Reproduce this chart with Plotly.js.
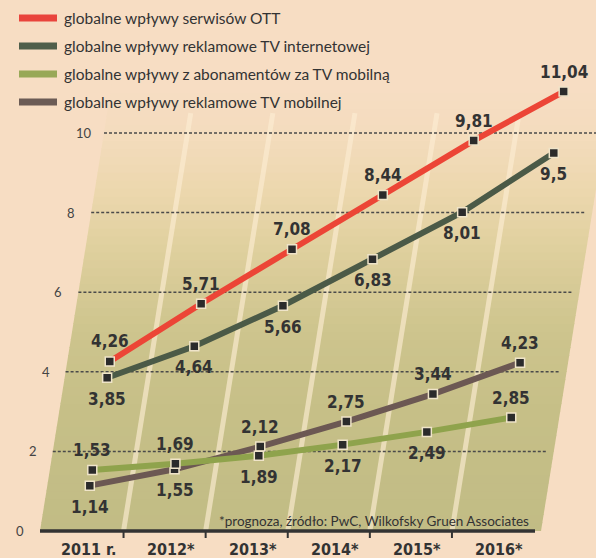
<!DOCTYPE html>
<html><head><meta charset="utf-8">
<script src="https://cdn.plot.ly/plotly-3.0.1.min.js"></script>
<style>html,body{margin:0;padding:0;background:#f7ddc3;overflow:hidden}</style>
</head><body><div id="chart" style="width:596px;height:558px"></div>
<script>
// ---- data ----
const years = ['2011 r.', '2012*', '2013*', '2014*', '2015*', '2016*'];
const seriesNames = [
  'globalne wpływy serwisów OTT',
  'globalne wpływy reklamowe TV internetowej',
  'globalne wpływy z abonamentów za TV mobilną',
  'globalne wpływy reklamowe TV mobilnej'
];
const ottRevenue    = [4.26, 5.71, 7.08, 8.44, 9.81, 11.04];
const internetTvAds = [3.85, 4.64, 5.66, 6.83, 8.01, 9.5];
const mobileTvSubs  = [1.53, 1.69, 1.89, 2.17, 2.49, 2.85];
const mobileTvAds   = [1.14, 1.55, 2.12, 2.75, 3.44, 4.23];
const yTicks = [0, 2, 4, 6, 8, 10];
const footnote = '*prognoza, źródło: PwC, Wilkofsky Gruen Associates';

// ---- label placement (above / below marker) ----
const placeOtt      = ['up', 'up', 'up', 'up', 'up', 'up'];
const placeInternet = ['dn', 'dn', 'dn', 'dn', 'dn', 'dn'];
const placeSubs     = ['up', 'up', 'dn', 'dn', 'dn', 'up'];
const placeAds      = ['dn', 'dn', 'up', 'up', 'up', 'up'];

// ---- geometry / style ----
const W = 596, H = 558;
const X0PX = 82.5, XSTEP = 82.1, Y0PX = 531, YSTEP = 39.8, SHEAR_PX = 6.4;
const SKEW = SHEAR_PX / XSTEP;
const dx = px => (px - X0PX) / XSTEP;
const px2fx = px => px / W, py2fy = py => 1 - py / H;
const PAGE = '#f7ddc3';
const colors = ['#ec4536', '#4b5a47', '#8fa34c', '#6c5853'];
const legendColors = ['#e9443c', '#4f5e4a', '#98a857', '#6b5b55'];
const labelFont = {family: 'DejaVu Sans Condensed, Liberation Sans Narrow, sans-serif', size: 17, color: '#333', weight: 'bold'};

const series = [
  {vals: mobileTvAds, name: seriesNames[3], color: colors[3], place: placeAds},
  {vals: mobileTvSubs, name: seriesNames[2], color: colors[2], place: placeSubs},
  {vals: internetTvAds, name: seriesNames[1], color: colors[1], place: placeInternet},
  {vals: ottRevenue, name: seriesNames[0], color: colors[0], place: placeOtt}
];

const traces = series.map(s => ({
  type: 'scatter', mode: 'lines+markers', name: s.name, showlegend: false,
  x: s.vals.map((v, i) => i + SKEW * v), y: s.vals,
  line: {color: s.color, width: 6},
  marker: {symbol: 'square', size: 9, color: '#2b2b2b', line: {color: '#efe4c9', width: 1.5}},
  hoverinfo: 'skip'
}));

const shapes = [];
const annotations = [];

// background sheared panel with vertical gradient (bands)
const stops = [[0, [193,188,133]], [3, [198,191,135]], [5, [205,196,141]], [7, [222,207,157]], [8.5, [236,215,173]], [10, [244,220,189]], [11.2, [247,221,195]]];
function colAt(v) {
  for (let k = 0; k < stops.length - 1; k++) {
    const [a, ca] = stops[k], [b, cb] = stops[k + 1];
    if (v <= b) { const t = (v - a) / (b - a); return 'rgb(' + ca.map((c, j) => Math.round(c + (cb[j] - c) * t)).join(',') + ')'; }
  }
  return 'rgb(247,221,195)';
}
const xl = dx(40), xr = dx(541);
const NB = 56, VTOP = 11.2;
for (let k = 0; k < NB; k++) {
  const v0 = VTOP * k / NB, v1 = VTOP * (k + 1) / NB + 0.02;
  const p = `M${xl + SKEW * v0},${v0} L${xr + SKEW * v0},${v0} L${xr + SKEW * v1},${v1} L${xl + SKEW * v1},${v1} Z`;
  shapes.push({type: 'path', path: p, xref: 'x', yref: 'y', fillcolor: colAt((v0 + v1) / 2), line: {width: 0}, layer: 'below'});
}
// light slanted stripes between categories
for (let i = 0; i < years.length - 1; i++) {
  shapes.push({type: 'line', xref: 'x', yref: 'y', x0: i + 0.5, y0: 0, x1: i + 0.5 + SKEW * 10.5, y1: 10.5,
    line: {color: 'rgba(252,236,210,0.65)', width: 5}, layer: 'below'});
}
// dotted gridlines
yTicks.filter(v => v > 0).forEach(v => {
  shapes.push({type: 'line', xref: 'x', yref: 'y', x0: dx(40) + SKEW * v, y0: v, x1: dx(535) + SKEW * v, y1: v,
    line: {color: '#4a4a4a', width: 1.5, dash: '3px,2px'}, layer: 'below'});
});
// y tick labels (sheared)
yTicks.forEach(v => {
  annotations.push({x: dx(20) + SKEW * v, y: v, xref: 'x', yref: 'y', text: String(v), showarrow: false,
    xanchor: 'center', yanchor: 'middle', font: {family: 'Lato, Open Sans, sans-serif', size: 13, color: '#444'}});
});
// x axis line + ticks
shapes.push({type: 'line', xref: 'x', yref: 'y', x0: dx(40), y0: 0, x1: dx(535), y1: 0, line: {color: '#333', width: 3.5}});
for (let i = 0; i < years.length - 1; i++) {
  shapes.push({type: 'line', xref: 'x', yref: 'y', x0: i + 0.5, y0: 0, x1: i + 0.5, y1: -7 / YSTEP, line: {color: '#333', width: 2}});
}
years.forEach((t, i) => {
  annotations.push({x: i, y: 0, xref: 'x', yref: 'y', text: t, showarrow: false, xshift: 6, yshift: -18,
    xanchor: 'center', yanchor: 'middle', font: {family: 'DejaVu Sans Condensed, sans-serif', size: 16, color: '#333', weight: 'bold'}});
});
// value labels
series.forEach(s => {
  s.vals.forEach((v, i) => {
    annotations.push({x: i + SKEW * v, y: v, xref: 'x', yref: 'y', text: String(v).replace('.', ','), showarrow: false,
      xanchor: 'center', yanchor: 'middle', yshift: s.place[i] === 'up' ? 20 : -21, font: labelFont});
  });
});
// legend (manual)
seriesNames.forEach((n, k) => {
  const yc = 18 + k * 28;
  shapes.push({type: 'line', xref: 'paper', yref: 'paper', x0: px2fx(19), x1: px2fx(57), y0: py2fy(yc), y1: py2fy(yc),
    line: {color: legendColors[k], width: 7}});
  annotations.push({xref: 'paper', yref: 'paper', x: px2fx(62), y: py2fy(yc), text: n, showarrow: false,
    xanchor: 'left', yanchor: 'middle', font: {family: 'Lato, Open Sans, sans-serif', size: 15.5, color: '#333'}});
});
// footnote
annotations.push({xref: 'paper', yref: 'paper', x: px2fx(531), y: py2fy(521), text: footnote, showarrow: false,
  xanchor: 'right', yanchor: 'middle', font: {family: 'Lato, Open Sans, sans-serif', size: 13.5, color: '#333'}});

const layout = {
  width: W, height: H, margin: {l: 0, r: 0, t: 0, b: 0, autoexpand: false},
  paper_bgcolor: PAGE, plot_bgcolor: 'rgba(0,0,0,0)', showlegend: false,
  xaxis: {range: [dx(0), dx(W)], visible: false, fixedrange: true},
  yaxis: {range: [(Y0PX - H) / YSTEP, Y0PX / YSTEP], visible: false, fixedrange: true},
  shapes: shapes, annotations: annotations
};
Plotly.newPlot('chart', traces, layout, {displayModeBar: false, staticPlot: true});
</script></body></html>
